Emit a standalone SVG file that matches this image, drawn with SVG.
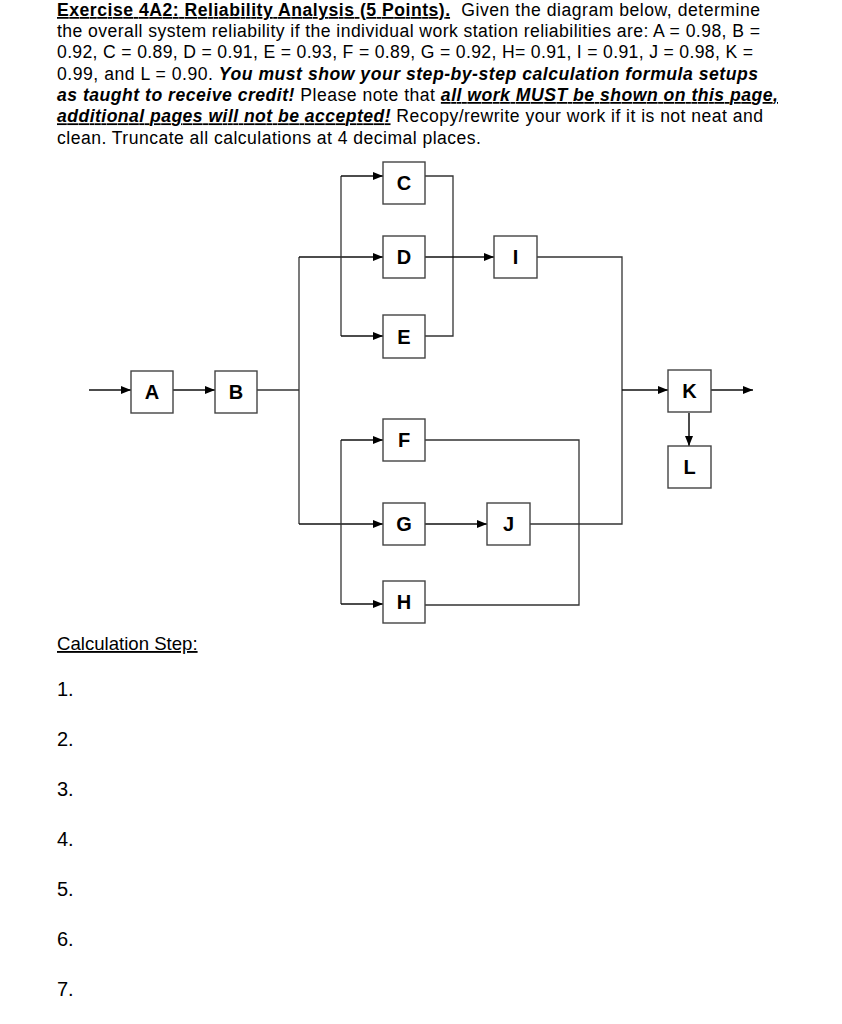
<svg xmlns="http://www.w3.org/2000/svg" width="842" height="1024" viewBox="0 0 842 1024">
<style>
  .t { font-family: "Liberation Sans", Arial, Helvetica, sans-serif; font-size: 17.6px; fill: #000; }
  .b { font-weight: bold; }
  .bi { font-weight: bold; font-style: italic; }
  .u { text-decoration: underline; }
  .box { fill: #fff; stroke: #444; stroke-width: 1.4; }
  .lbl { font-family: "Liberation Sans", Arial, Helvetica, sans-serif; font-size: 20px; font-weight: bold; text-anchor: middle; fill: #000; }
  .ln { fill: none; stroke: #333; stroke-width: 1.3; }
  .arr { fill: none; stroke: #111; stroke-width: 1.5; marker-end: url(#ah); }
  .num { font-size: 20px; }
</style>
<defs>
  <marker id="ah" markerUnits="userSpaceOnUse" markerWidth="11" markerHeight="9" refX="10" refY="4" orient="auto">
    <path d="M0,0 L10,4 L0,8 z" fill="#000"/>
  </marker>
</defs>
<rect width="842" height="1024" fill="#fff"/>

<g id="header">
  <text class="t" x="57" y="16" textLength="703" lengthAdjust="spacing"><tspan class="b u">Exercise 4A2: Reliability Analysis (5 Points).</tspan><tspan xml:space="preserve">  Given the diagram below, determine</tspan></text>
  <text class="t" x="57" y="36.5" textLength="703" lengthAdjust="spacing">the overall system reliability if the individual work station reliabilities are: A = 0.98, B =</text>
  <text class="t" x="57" y="58" textLength="696" lengthAdjust="spacing">0.92, C = 0.89, D = 0.91, E = 0.93, F = 0.89, G = 0.92, H= 0.91, I = 0.91, J = 0.98, K =</text>
  <text class="t" x="57" y="79.5" textLength="701" lengthAdjust="spacing">0.99, and L = 0.90. <tspan class="bi">You must show your step-by-step calculation formula setups</tspan></text>
  <text class="t" x="57" y="101" textLength="721" lengthAdjust="spacing"><tspan class="bi">as taught to receive credit!</tspan> Please note that <tspan class="bi u">all work MUST be shown on this page,</tspan></text>
  <text class="t" x="57" y="122.3" textLength="706" lengthAdjust="spacing"><tspan class="bi u">additional pages will not be accepted!</tspan> Recopy/rewrite your work if it is not neat and</text>
  <text class="t" x="57" y="143.7" textLength="424" lengthAdjust="spacing">clean. Truncate all calculations at 4 decimal places.</text>
</g>

<g id="connectors">
  <path class="arr" d="M89,390 H131"/>
  <path class="arr" d="M173,390 H215"/>
  <path class="ln" d="M257,390 H299"/>
  <path class="ln" d="M299,257 V524"/>
  <path class="arr" d="M299,257 H383"/>
  <path class="ln" d="M341,176 V336"/>
  <path class="arr" d="M341,176 H383"/>
  <path class="arr" d="M341,336 H383"/>
  <path class="ln" d="M425,176 H453 V336 H425"/>
  <path class="arr" d="M425,257 H494"/>
  <path class="ln" d="M537,257 H622 V524 H530"/>
  <path class="arr" d="M622,390 H668"/>
  <path class="arr" d="M711,390 H753"/>
  <path class="arr" d="M689,413 V446"/>
  <path class="arr" d="M299,524 H383"/>
  <path class="arr" d="M425,524 H487"/>
  <path class="ln" d="M341,440 V604"/>
  <path class="arr" d="M341,440 H383"/>
  <path class="arr" d="M341,604 H383"/>
  <path class="ln" d="M425,440 H579 V605 H425"/>
</g>

<g id="node-A"><rect class="box" x="131" y="371" width="42" height="42"/><text class="lbl" x="152" y="399">A</text></g>
<g id="node-B"><rect class="box" x="215" y="371" width="42" height="42"/><text class="lbl" x="236" y="399">B</text></g>
<g id="node-C"><rect class="box" x="383" y="162" width="42" height="42"/><text class="lbl" x="404" y="190">C</text></g>
<g id="node-D"><rect class="box" x="383" y="236" width="42" height="42"/><text class="lbl" x="404" y="264">D</text></g>
<g id="node-E"><rect class="box" x="383" y="315" width="42" height="43"/><text class="lbl" x="404" y="343.5">E</text></g>
<g id="node-I"><rect class="box" x="494" y="236" width="43" height="42"/><text class="lbl" x="515.5" y="264">I</text></g>
<g id="node-F"><rect class="box" x="383" y="419" width="42" height="42"/><text class="lbl" x="404" y="447">F</text></g>
<g id="node-G"><rect class="box" x="383" y="503" width="42" height="42"/><text class="lbl" x="404" y="531">G</text></g>
<g id="node-J"><rect class="box" x="487" y="503" width="43" height="42"/><text class="lbl" x="508.5" y="531">J</text></g>
<g id="node-H"><rect class="box" x="383" y="581" width="42" height="42"/><text class="lbl" x="404" y="609">H</text></g>
<g id="node-K"><rect class="box" x="668" y="370" width="43" height="42"/><text class="lbl" x="689.5" y="398">K</text></g>
<g id="node-L"><rect class="box" x="668" y="446" width="43" height="42"/><text class="lbl" x="689.5" y="474">L</text></g>

<g id="steps">
  <text class="t u" x="57" y="650" style="font-size:18.6px">Calculation Step:</text>
  <text class="t num" x="57" y="696">1.</text>
  <text class="t num" x="57" y="746">2.</text>
  <text class="t num" x="57" y="796">3.</text>
  <text class="t num" x="57" y="846">4.</text>
  <text class="t num" x="57" y="896">5.</text>
  <text class="t num" x="57" y="946">6.</text>
  <text class="t num" x="57" y="996">7.</text>
</g>
</svg>
